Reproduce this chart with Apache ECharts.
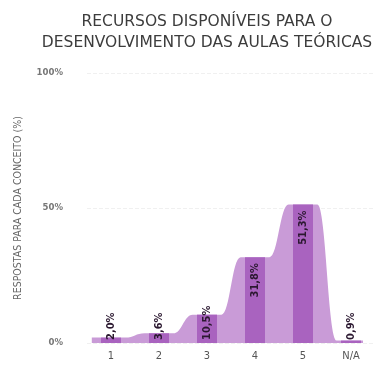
<!DOCTYPE html>
<html><head><meta charset="utf-8">
<script src="https://cdn.jsdelivr.net/npm/echarts@6/dist/echarts.min.js"></script>
<style>html,body{margin:0;padding:0;background:#fff}#c{width:375px;height:365px}</style>
</head><body><div id="c"></div>
<script>
const categories = ['1', '2', '3', '4', '5', 'N/A'];
const values = [2.0, 3.6, 10.5, 31.8, 51.3, 0.9];
const yTicks = [0, 50, 100];
const titleLines = ['RECURSOS DISPONÍVEIS PARA O', 'DESENVOLVIMENTO DAS AULAS TEÓRICAS'];
const yAxisTitle = 'RESPOSTAS PARA CADA CONCEITO (%)';

const areaPts = [];
values.forEach((v, i) => {
  areaPts.push([i - (i === 0 ? 0.4 : 0.3), v]);
  areaPts.push([i + (i === values.length - 1 ? 0.25 : 0.3), v]);
});

const fmt = v => v.toFixed(1).replace('.', ',') + '%';
const chart = echarts.init(document.getElementById('c'));
const font = '"DejaVu Sans Condensed", "DejaVu Sans", sans-serif';
const wide = '"DejaVu Sans", sans-serif';
chart.setOption({
  animation: false,
  title: {
    text: titleLines.join('\n'), left: 202, textAlign: 'center', top: 6,
    textStyle: { fontFamily: wide, fontSize: 15.5, fontWeight: 'normal', color: '#3c3c3c', lineHeight: 21 }
  },
  grid: { left: 87, top: 73, width: 295, height: 270 },
  xAxis: [
    { type: 'category', data: categories, axisLine: { show: false }, axisTick: { show: false },
      axisLabel: { color: '#555', fontSize: 11, fontFamily: font, margin: 8 } },
    { type: 'value', min: -0.5, max: 5.5, show: false }
  ],
  yAxis: {
    type: 'value', min: 0, max: 100, interval: 50,
    name: yAxisTitle, nameLocation: 'middle', nameGap: 63, nameRotate: 90,
    nameTextStyle: { fontSize: 10.5, color: '#666', fontFamily: font },
    axisLabel: { formatter: v => v + '%', color: '#777', fontSize: 9.5, fontWeight: 'bold', fontFamily: font, margin: 24 },
    axisLine: { show: false }, axisTick: { show: false },
    splitLine: { show: true, lineStyle: { color: '#f0f0f0', type: 'dashed', width: 1 } }
  },
  series: [
    { type: 'line', xAxisIndex: 1, data: areaPts, smooth: 0.45, smoothMonotone: 'x', symbol: 'none',
      lineStyle: { width: 0 }, areaStyle: { color: '#c99bd7', opacity: 1 }, z: 1 },
    { type: 'bar', xAxisIndex: 0, barWidth: 20, z: 2,
      data: values.map(v => ({
        value: v,
        label: v > 20
          ? { show: true, position: 'insideTop', rotate: 90, align: 'right', verticalAlign: 'middle', distance: 6 }
          : { show: true, position: 'insideBottom', rotate: 90, align: 'left', verticalAlign: 'middle', distance: 3 }
      })),
      itemStyle: { color: '#a963bf' },
      label: { formatter: p => fmt(p.value), color: '#2b1830', fontSize: 11, fontWeight: 'bold', fontFamily: font }
    }
  ]
});
</script></body></html>
